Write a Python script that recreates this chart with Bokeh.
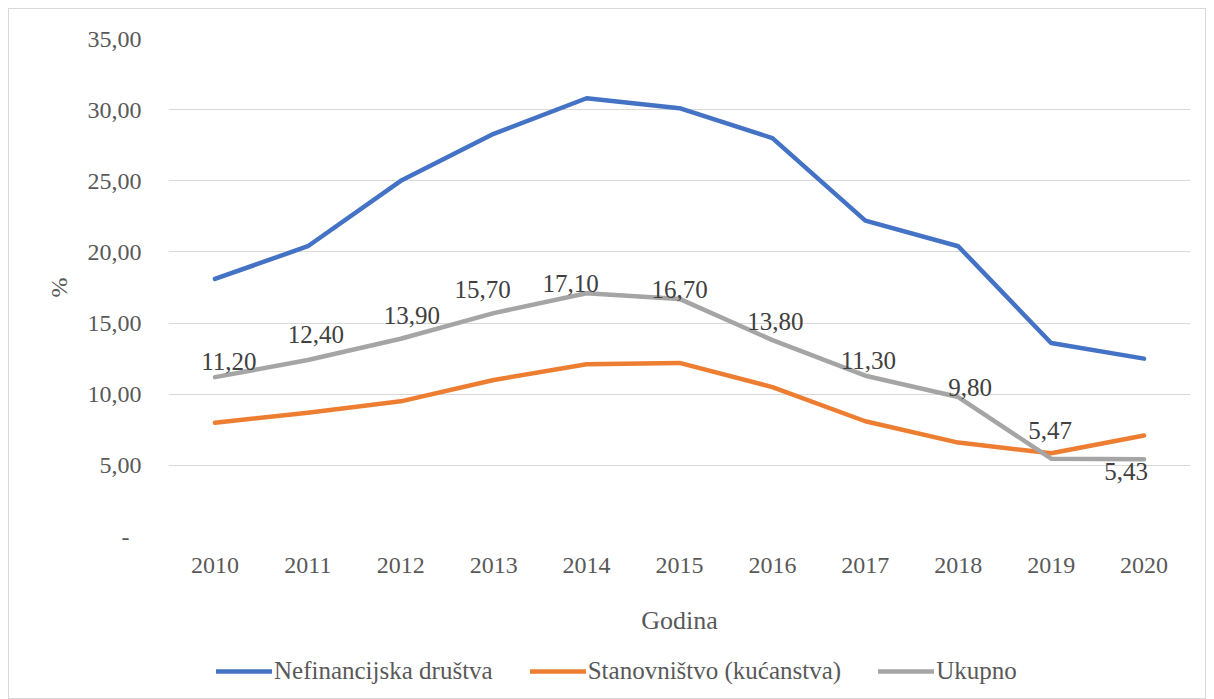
from bokeh.plotting import figure
from bokeh.layouts import column
from bokeh.models import (ColumnDataSource, FactorRange, Range1d, FixedTicker,
                          CustomJSTickFormatter, Legend, LegendItem, LabelSet)
from bokeh.embed import file_html
from bokeh.resources import INLINE

years = ["2010", "2011", "2012", "2013", "2014", "2015", "2016", "2017", "2018", "2019", "2020"]
nefinancijska = [18.1, 20.4, 25.0, 28.3, 30.8, 30.1, 28.0, 22.2, 20.4, 13.6, 12.5]
stanovnistvo = [8.0, 8.7, 9.5, 11.0, 12.1, 12.2, 10.5, 8.1, 6.6, 5.85, 7.1]
ukupno = [11.20, 12.40, 13.90, 15.70, 17.10, 16.70, 13.80, 11.30, 9.80, 5.47, 5.43]
ukupno_labels = ["11,20", "12,40", "13,90", "15,70", "17,10", "16,70", "13,80", "11,30", "9,80", "5,47", "5,43"]
y_ticks = [0, 5, 10, 15, 20, 25, 30, 35]
series_names = ["Nefinancijska društva", "Stanovništvo (kućanstva)", "Ukupno"]
series_colors = ["#4472C4", "#ED7D31", "#A5A5A5"]

# label placement style (screen px)
label_dx = [14, 8, 11, -11, -16, 0, 3, 3, 12, -1, -18]
label_dy = [7, 17, 15, 15, 1, 1, 10, 7, 1, 20, -21]

FONT = "Liberation Serif"
TXT = "#595959"
LW = 4.5

p = figure(x_range=FactorRange(factors=years, range_padding=0),
           y_range=Range1d(0, 35),
           width=1196, height=642,
           min_border_left=159, min_border_right=15,
           min_border_top=29, min_border_bottom=115,
           output_backend="svg", toolbar_location=None,
           background_fill_color="white", border_fill_color="white")
p.outline_line_color = None

src = ColumnDataSource(dict(year=years, nef=nefinancijska, sta=stanovnistvo,
                            uk=ukupno, lab=ukupno_labels, dx=label_dx, dy=label_dy))

for col, c in zip(["nef", "sta", "uk"], series_colors):
    p.line("year", col, source=src, line_color=c, line_width=LW,
           line_cap="round", line_join="round")

labels = LabelSet(x="year", y="uk", text="lab", source=src, x_offset="dx", y_offset="dy",
                  text_align="center", text_baseline="alphabetic",
                  text_font=FONT, text_font_size="25px", text_color="#404040")
p.add_layout(labels)

p.xgrid.grid_line_color = None
p.ygrid.grid_line_color = "#d9d9d9"
p.ygrid.grid_line_width = 1

p.yaxis.ticker = FixedTicker(ticks=y_ticks)
p.yaxis.formatter = CustomJSTickFormatter(
    code="return tick == 0 ? '-\\u00a0\\u00a0' : tick.toFixed(2).replace('.', ',');")
for ax in (p.xaxis[0], p.yaxis[0]):
    ax.axis_line_color = None
    ax.major_tick_line_color = None
    ax.minor_tick_line_color = None
    ax.major_tick_out = 0
    ax.major_tick_in = 0
    ax.major_label_text_font = FONT
    ax.major_label_text_font_size = "24px"
    ax.major_label_text_color = TXT
    ax.axis_label_text_font = FONT
    ax.axis_label_text_font_size = "26px"
    ax.axis_label_text_color = TXT
    ax.axis_label_text_font_style = "normal"

p.yaxis.axis_label = "%"
p.yaxis.axis_label_text_font_size = "24px"
p.yaxis.major_label_standoff = 27
p.yaxis.axis_label_standoff = 13
p.xaxis.axis_label = "Godina"
p.xaxis.major_label_standoff = 21
p.xaxis.axis_label_standoff = 30

# legend strip (its frame is aligned with the main plot's frame by the column layout)
p2 = figure(width=1196, height=47, x_range=Range1d(0, 1), y_range=Range1d(0, 1),
            min_border=0, output_backend="svg", toolbar_location=None,
            x_axis_location=None, y_axis_location=None,
            background_fill_color="white", border_fill_color="white")
p2.outline_line_color = None
p2.grid.grid_line_color = None
items = []
for name, c in zip(series_names, series_colors):
    # off-range sample so only the legend swatch is visible
    r = p2.line(x=[5, 6], y=[5, 6], line_color=c, line_width=LW, line_cap="round")
    items.append(LegendItem(label=name, renderers=[r]))
legend = Legend(items=items, orientation="horizontal", location=(48, 13),
                padding=0, margin=0, spacing=37, glyph_width=56, label_standoff=2,
                border_line_color=None, background_fill_alpha=0,
                label_text_font=FONT, label_text_font_size="25px", label_text_color=TXT)
p2.add_layout(legend)

layout = column(p, p2, spacing=0,
                styles={"border": "1px solid #d9d9d9", "margin-left": "8px", "margin-top": "8px"})

open("out.html", "w").write(file_html(layout, INLINE))
